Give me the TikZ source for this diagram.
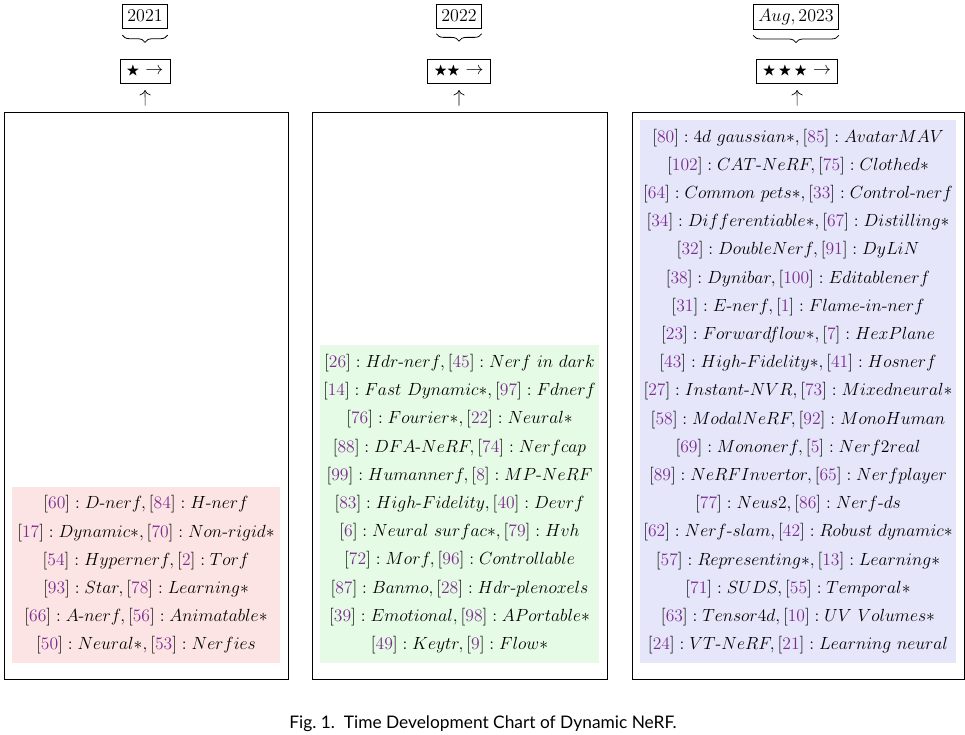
\RequirePackage{fix-cm}
\documentclass[tikz,border=0pt]{standalone}
\usepackage{amsmath,amssymb}
\usepackage{fontspec}
\newfontfamily\capfont{Lato}
\usepackage{xcolor}
\definecolor{citepurple}{HTML}{7B2D8E}
\definecolor{pinkbg}{HTML}{FDE4E4}
\definecolor{greenbg}{HTML}{E6FBE6}
\definecolor{bluebg}{HTML}{E6E6FA}
\usepackage{tikz}
\usetikzlibrary{positioning,arrows.meta,decorations.pathreplacing}

% one line of a panel: [ref] : name, [ref] : name
\newcommand{\cit}[1]{[\textcolor{citepurple}{#1}]}
\newcommand{\pairline}[4]{$\cit{#1}:#2,\cit{#3}:#4$}
\newcommand{\stp}{\mbox{\scalebox{0.75}{$\bigstar$}}}

\begin{document}
\begin{tikzpicture}[
  x=0.75pt,y=-0.75pt,
  yearbox/.style={draw,line width=0.6pt,inner sep=3.5pt,font=\fontsize{13.5}{15}\selectfont,minimum height=18pt},
  starbox/.style={draw,line width=0.6pt,inner xsep=5pt,inner ysep=3pt,font=\fontsize{13.5}{15}\selectfont,minimum height=18pt},
  panel/.style={draw,line width=0.6pt,minimum height=567*0.75pt},
  shade/.style={align=center,inner sep=0pt,font=\fontsize{13.2}{21.15}\selectfont},
  brc/.style={decorate,decoration={brace,amplitude=5.5pt},line width=0.6pt},
  arr/.style={-{To[length=4pt]},line width=0.5pt,shorten <=4.5pt,shorten >=5pt}
]
  \useasboundingbox (0,0) rectangle (965,735);

  % headers
  \node[yearbox] (y1) at (145,16) {2021};
  \node[yearbox] (y2) at (459,16) {2022};
  \node[yearbox] (y3) at (796,17) {$Aug,2023$};
  \node[starbox] (s1) at (145,71) {\stp\ $\rightarrow$};
  \node[starbox] (s2) at (459,71) {\stp\stp\ $\rightarrow$};
  \node[starbox] (s3) at (797,71) {\stp\,\stp\,\stp\ $\rightarrow$};
  \draw[brc] ([yshift=-5pt]y1.south east) -- ([yshift=-5pt]y1.south west);
  \draw[brc] ([yshift=-4pt]y2.south east) -- ([yshift=-4pt]y2.south west);
  \draw[brc] ([yshift=-4pt]y3.south east) -- ([yshift=-4pt]y3.south west);

  % panels
  \node[panel,minimum width=284*0.75pt] (p1) at (146,395.5) {};
  \node[panel,minimum width=295*0.75pt] (p2) at (459.5,395.5) {};
  \node[panel,minimum width=332*0.75pt] (p3) at (798,395.5) {};

  \node[shade,fill=pinkbg,minimum width=268*0.75pt,minimum height=176*0.75pt] (t1) at (146,575) {%
    \pairline{60}{D\text{-}nerf}{84}{H\text{-}nerf}\\
    \pairline{17}{Dynamic\ast}{70}{Non\text{-}rigid\ast}\\
    \pairline{54}{Hypernerf}{2}{Torf}\\
    \pairline{93}{Star}{78}{Learning\ast}\\
    \pairline{66}{A\text{-}nerf}{56}{Animatable\ast}\\
    \pairline{50}{Neural\ast}{53}{Nerfies}};
  \node[shade,fill=greenbg,minimum width=279*0.75pt,minimum height=318*0.75pt] (t2) at (459.5,504) {%
    \pairline{26}{Hdr\text{-}nerf}{45}{Nerf\ in\ dark}\\
    \pairline{14}{Fast\ Dynamic\ast}{97}{Fdnerf}\\
    \pairline{76}{Fourier\ast}{22}{Neural\ast}\\
    \pairline{88}{DFA\text{-}NeRF}{74}{Nerfcap}\\
    \pairline{99}{Humannerf}{8}{MP\text{-}NeRF}\\
    \pairline{83}{High\text{-}Fidelity}{40}{Devrf}\\
    \pairline{6}{Neural\ surfac\ast}{79}{Hvh}\\
    \pairline{72}{Morf}{96}{Controllable}\\
    \pairline{87}{Banmo}{28}{Hdr\text{-}plenoxels}\\
    \pairline{39}{Emotional}{98}{APortable\ast}\\
    \pairline{49}{Keytr}{9}{Flow\ast}};
  \node[shade,fill=bluebg,minimum width=316*0.75pt,minimum height=543*0.75pt] (t3) at (798,391.5) {%
    \pairline{80}{4d\ gaussian\ast}{85}{AvatarMAV}\\
    \pairline{102}{CAT\text{-}NeRF}{75}{Clothed\ast}\\
    \pairline{64}{Common\ pets\ast}{33}{Control\text{-}nerf}\\
    \pairline{34}{Differentiable\ast}{67}{Distilling\ast}\\
    \pairline{32}{DoubleNerf}{91}{DyLiN}\\
    \pairline{38}{Dynibar}{100}{Editablenerf}\\
    \pairline{31}{E\text{-}nerf}{1}{Flame\text{-}in\text{-}nerf}\\
    \pairline{23}{Forwardflow\ast}{7}{HexPlane}\\
    \pairline{43}{High\text{-}Fidelity\ast}{41}{Hosnerf}\\
    \pairline{27}{Instant\text{-}NVR}{73}{Mixedneural\ast}\\
    \pairline{58}{ModalNeRF}{92}{MonoHuman}\\
    \pairline{69}{Mononerf}{5}{Nerf2real}\\
    \pairline{89}{NeRFInvertor}{65}{Nerfplayer}\\
    \pairline{77}{Neus2}{86}{Nerf\text{-}ds}\\
    \pairline{62}{Nerf\text{-}slam}{42}{Robust\ dynamic\ast}\\
    \pairline{57}{Representing\ast}{13}{Learning\ast}\\
    \pairline{71}{SUDS}{55}{Temporal\ast}\\
    \pairline{63}{Tensor4d}{10}{UV\ Volumes\ast}\\
    \pairline{24}{VT\text{-}NeRF}{21}{Learning\ neural}};

  \draw[arr] (p1) -- (s1);
  \draw[arr] (p2) -- (s2);
  \draw[arr] (p3) -- (s3);

  \node[font=\capfont\fontsize{13}{15}\selectfont] (cap) at (483,724) {Fig.~1.\ \ Time Development Chart of Dynamic NeRF.};
\end{tikzpicture}
\end{document}
